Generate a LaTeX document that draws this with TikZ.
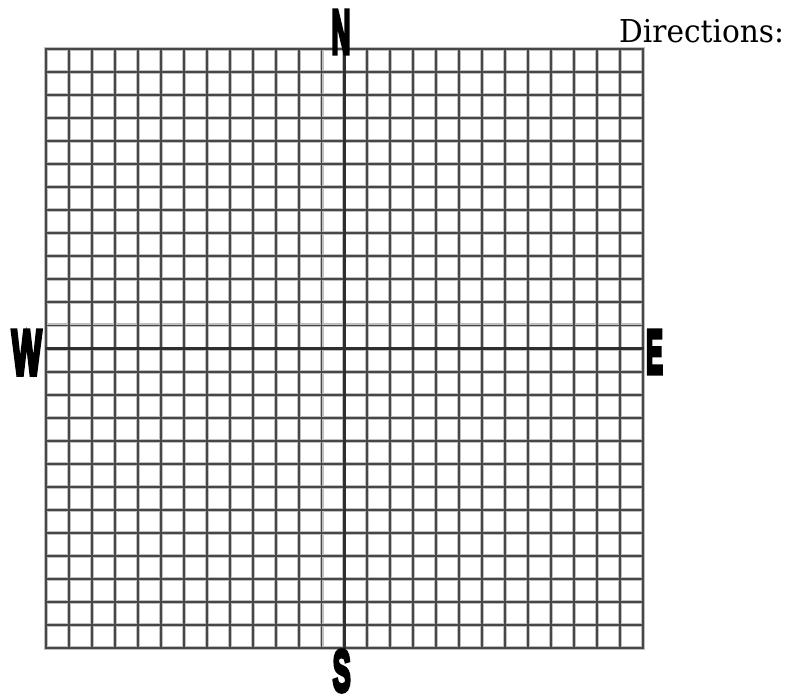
\documentclass[tikz,border=0pt]{standalone}
\usepackage{fontspec}
\newfontfamily\heavy{Liberation Sans Bold}[FakeBold=7]
\newfontfamily\dirfont{DejaVu Serif}
\begin{document}
\begin{tikzpicture}[x=1pt,y=-1pt,
  halo/.style={line width=4pt, black!25, line cap=rect},
  gline/.style={line width=1.9pt, black!72, line cap=rect},
  axisline/.style={line width=2.4pt, black!82, line cap=rect},
  letter/.style={inner sep=0pt, outer sep=0pt, text=black}]
\useasboundingbox (0,0) rectangle (791,698);
\foreach \i in {0,...,26} {
  \draw[halo] ({46+\i*22.96},49) -- ({46+\i*22.96},648);
  \draw[halo] (46,{49+\i*23.04}) -- (643,{49+\i*23.04});
}
\foreach \i in {0,...,26} {
  \draw[gline] ({46+\i*22.96},49) -- ({46+\i*22.96},648);
  \draw[gline] (46,{49+\i*23.04}) -- (643,{49+\i*23.04});
}
\coordinate (ntop) at (344.5,49);
\coordinate (sbot) at (344.5,648);
\coordinate (wend) at (46,348.5);
\coordinate (eend) at (643,348.5);
\draw[axisline] (ntop) -- (sbot);
\draw[axisline] (wend) -- (eend);
\node[letter] (N) at (341,32) {\resizebox{19pt}{43pt}{\heavy N}};
\node[letter] (W) at (26.7,352.5) {\resizebox{30pt}{44pt}{\heavy W}};
\node[letter] (E) at (654.5,352) {\resizebox{17pt}{43pt}{\heavy E}};
\node[letter] (S) at (341.7,671) {\resizebox{18pt}{41pt}{\heavy S}};
\node[anchor=base west, inner sep=0pt] (dir) at (619,43) {\scalebox{0.94}[1]{\dirfont\fontsize{31.5}{32}\selectfont Directions:}};
\end{tikzpicture}
\end{document}
